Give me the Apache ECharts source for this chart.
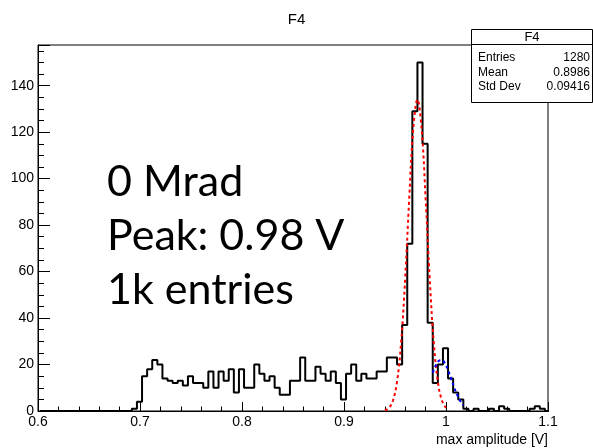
<!DOCTYPE html>
<html>
<head>
<meta charset="utf-8">
<script src="https://cdn.jsdelivr.net/npm/echarts@6/dist/echarts.min.js"></script>
<style>
html,body{margin:0;padding:0;background:#fff;}
#chart{width:593px;height:448px;}
</style>
</head>
<body>
<div id="chart"></div>
<script>
// ---------------- data ----------------
const chartTitle = 'F4';
const xAxisTitle = 'max amplitude [V]';
const xTickLabels = ['0.6', '0.7', '0.8', '0.9', '1', '1.1'];
const yTickLabels = ['0', '20', '40', '60', '80', '100', '120', '140'];
const binStart = 0.602;
const binWidth = 0.005;
const binCounts = [
  0, 0, 0, 0, 0, 0, 0, 0, 0, 0,
  0, 0, 0, 0, 0, 0, 0, 0, 1, 4,
  15, 18, 22, 20, 14, 13, 12, 13, 11, 15,
  12, 12, 10, 17, 10, 17, 13, 18, 8, 18,
  10, 10, 20, 16, 13, 15, 10, 7, 7, 13,
  13, 23, 13, 13, 19, 16, 13, 17, 12, 5,
  16, 20, 13, 16, 14, 14, 17, 17, 23, 23,
  20, 37, 72, 129, 150, 115, 38, 12, 20, 27,
  14, 8, 5, 1, 0, 1, 0, 0, 1, 0,
  2, 1, 0, 0, 0, 0, 1, 2, 1, 0
];
const redFitX = [0.940, 0.944, 0.948, 0.952, 0.956, 0.960, 0.964, 0.968, 0.972, 0.976, 0.980, 0.984, 0.988, 0.992, 0.996, 1.000];
const redFitY = [0.3, 1.3, 4.5, 12.6, 29.5, 57.2, 91.8, 121.9, 134, 121.9, 91.8, 57.2, 29.5, 12.6, 4.5, 1.3];
const blueFitX = [0.987, 0.990, 0.993, 0.996, 0.999, 1.002, 1.005, 1.008, 1.011, 1.014, 1.017];
const blueFitY = [16.5, 19.6, 21.6, 21.9, 20.5, 17.6, 14.0, 10.2, 6.9, 4.3, 2.4];
const statsTitle = 'F4';
const statsLabels = ['Entries', 'Mean', 'Std Dev'];
const statsValues = ['1280', '0.8986', '0.09416'];
const noteLines = ['0 Mrad', 'Peak: 0.98 V', '1k entries'];

// ---------------- build ----------------
const histData = binCounts.map((c, i) => [binStart + i * binWidth, c]);
histData.push([binStart + binCounts.length * binWidth, binCounts[binCounts.length - 1]]);
const redData = redFitX.map((x, i) => [x, redFitY[i]]);
const blueData = blueFitX.map((x, i) => [x, blueFitY[i]]);

const FONT = '"Liberation Sans", Arial, Helvetica, sans-serif';

const graphics = [];
// stats box
graphics.push({type: 'rect', z: 100, shape: {x: 471.5, y: 29.5, width: 121, height: 73},
  style: {fill: '#fff', stroke: '#000', lineWidth: 1}});
graphics.push({type: 'line', z: 101, shape: {x1: 471.5, y1: 44.5, x2: 592.5, y2: 44.5},
  style: {stroke: '#000', lineWidth: 1}});
graphics.push({type: 'text', z: 101, x: 532, y: 37,
  style: {text: statsTitle, font: '13px ' + FONT, fill: '#000', align: 'center', verticalAlign: 'middle'}});
statsLabels.forEach((lab, i) => {
  const y = 58 + i * 14.5;
  graphics.push({type: 'text', z: 101, x: 478, y: y,
    style: {text: lab, font: '12px ' + FONT, fill: '#000', align: 'left', verticalAlign: 'middle'}});
  graphics.push({type: 'text', z: 101, x: 590, y: y,
    style: {text: statsValues[i], font: '12px ' + FONT, fill: '#000', align: 'right', verticalAlign: 'middle'}});
});
// annotation text
noteLines.forEach((t, i) => {
  graphics.push({type: 'text', z: 50, x: 107, y: 182 + i * 54,
    style: {text: t, font: '43px Lato, "Open Sans", sans-serif', fill: '#000', align: 'left', verticalAlign: 'middle'}});
});

const chart = echarts.init(document.getElementById('chart'), null, {renderer: 'canvas'});
chart.setOption({
  animation: false,
  backgroundColor: '#fff',
  title: {
    text: chartTitle, left: 'center', top: 7,
    textStyle: {fontFamily: FONT, fontSize: 15, fontWeight: 'normal', color: '#000'}
  },
  grid: {left: 38, right: 45, top: 45, bottom: 37, show: true, borderColor: '#000', borderWidth: 1, backgroundColor: 'transparent'},
  xAxis: {
    type: 'value', min: 0.6, max: 1.1, interval: 0.1,
    axisLine: {show: true, onZero: false, lineStyle: {color: '#000', width: 1}},
    axisTick: {show: true, inside: true, length: 9, lineStyle: {color: '#000', width: 1}},
    minorTick: {show: true, splitNumber: 5, length: 4.5, lineStyle: {color: '#000', width: 1}},
    splitLine: {show: false},
    minorSplitLine: {show: false},
    axisLabel: {
      color: '#000', fontFamily: FONT, fontSize: 14, margin: 4, showMinLabel: true, showMaxLabel: true,
      formatter: v => { const k = Math.round((v - 0.6) / 0.1); return Math.abs(v - (0.6 + k * 0.1)) < 1e-6 ? (xTickLabels[k] || '') : ''; }
    },
    name: xAxisTitle, nameLocation: 'end', nameGap: 0,
    nameTextStyle: {color: '#000', fontFamily: FONT, fontSize: 14, align: 'right', verticalAlign: 'top', padding: [22, 0, 0, 0]}
  },
  yAxis: {
    type: 'value', min: 0, max: 157.5, interval: 20,
    axisLine: {show: true, onZero: false, lineStyle: {color: '#000', width: 1}},
    axisTick: {show: true, inside: true, length: 12, lineStyle: {color: '#000', width: 1}},
    minorTick: {show: true, splitNumber: 4, length: 6, lineStyle: {color: '#000', width: 1}},
    splitLine: {show: false},
    axisLabel: {
      color: '#000', fontFamily: FONT, fontSize: 14, margin: 4,
      formatter: v => { const k = Math.round(v / 20); return Math.abs(v - k * 20) < 1e-6 ? (yTickLabels[k] || '') : ''; }
    }
  },
  series: [
    {type: 'line', data: histData, step: 'end', symbol: 'none', z: 3,
      lineStyle: {color: '#000', width: 2}},
    {type: 'line', data: redData, smooth: 0.4, symbol: 'none', z: 4,
      lineStyle: {color: '#ff0000', width: 2, type: [3, 3]}},
    {type: 'line', data: blueData, smooth: 0.4, symbol: 'none', z: 4,
      lineStyle: {color: '#0000ff', width: 2, type: [3, 3]}}
  ],
  graphic: graphics
});
</script>
</body>
</html>
